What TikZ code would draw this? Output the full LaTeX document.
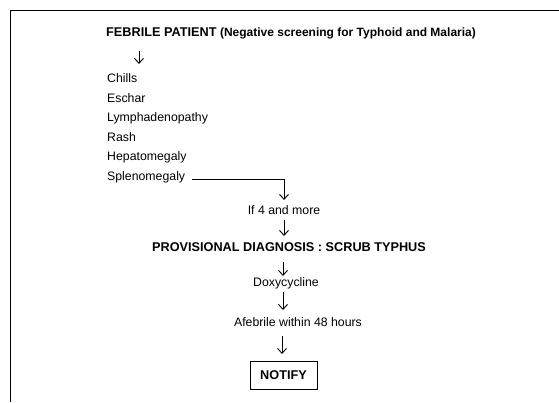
\documentclass[tikz,border=0pt]{standalone}
\usepackage{fontspec}
\setmainfont{Liberation Sans}
\usetikzlibrary{arrows.meta}
\tikzset{
  txt/.style={inner sep=0pt, font=\fontsize{12.3}{14}\selectfont},
  bld/.style={inner sep=0pt, font=\fontsize{12.7}{14}\selectfont\bfseries},
  flow/.style={line width=0.9pt, -{Straight Barb[length=5pt,width=9pt,line width=0.9pt]}},
  frame/.style={line width=1pt},
  boxed/.style={draw, line width=1pt, minimum width=67pt, minimum height=28pt, inner sep=0pt, font=\fontsize{12.7}{14}\selectfont\bfseries}
}
\begin{document}
\begin{tikzpicture}[x=1pt,y=-1pt]
\useasboundingbox (0,0) rectangle (559,402);
% frame
\coordinate (tl) at (10,10);
\coordinate (tr) at (559,10);
\coordinate (bl) at (10,402);
\draw[frame] (tr) -- (tl) -- (bl);
% title
\node[bld, anchor=west] (title) at (106,33) {FEBRILE PATIENT {\fontsize{12}{13}\selectfont (Negative screening for Typhoid and Malaria)}};
\coordinate (a1s) at (139,51);
\coordinate (a1e) at (139,64);
\draw[flow] (a1s) -- (a1e);
% list
\node[txt, anchor=west] (chills) at (107,78) {Chills};
\node[txt, anchor=west] (eschar) at (107,98) {Eschar};
\node[txt, anchor=west] (lymph) at (107,118) {Lymphadenopathy};
\node[txt, anchor=west] (rash) at (107,137.5) {Rash};
\node[txt, anchor=west] (hepato) at (107,157.5) {Hepatomegaly};
\node[txt, anchor=west] (spleno) at (107,177) {Splenomegaly};
\coordinate (ls) at (192,179);
\coordinate (lc) at (284,179);
\coordinate (a2e) at (284,200);
\node[txt] (if4) at (284,210) {If 4 and more};
\draw[flow] (ls) -- (lc) -- (a2e);
\node[bld] (prov) at (289,247) {PROVISIONAL DIAGNOSIS : SCRUB TYPHUS};
\coordinate (a3s) at (284,220);
\coordinate (a3e) at (284,236);
\draw[flow] (a3s) -- (a3e);
\node[txt] (doxy) at (286,283) {Doxycycline};
\coordinate (a4s) at (283,262);
\coordinate (a4e) at (283,276);
\draw[flow] (a4s) -- (a4e);
\node[txt] (afeb) at (298,322) {Afebrile within 48 hours};
\coordinate (a5s) at (283,292);
\coordinate (a5e) at (283,310);
\draw[flow] (a5s) -- (a5e);
\node[boxed] (notify) at (283.5,375) {NOTIFY};
\coordinate (a6s) at (282,336);
\coordinate (a6e) at (282,354);
\draw[flow] (a6s) -- (a6e);
\end{tikzpicture}
\end{document}
